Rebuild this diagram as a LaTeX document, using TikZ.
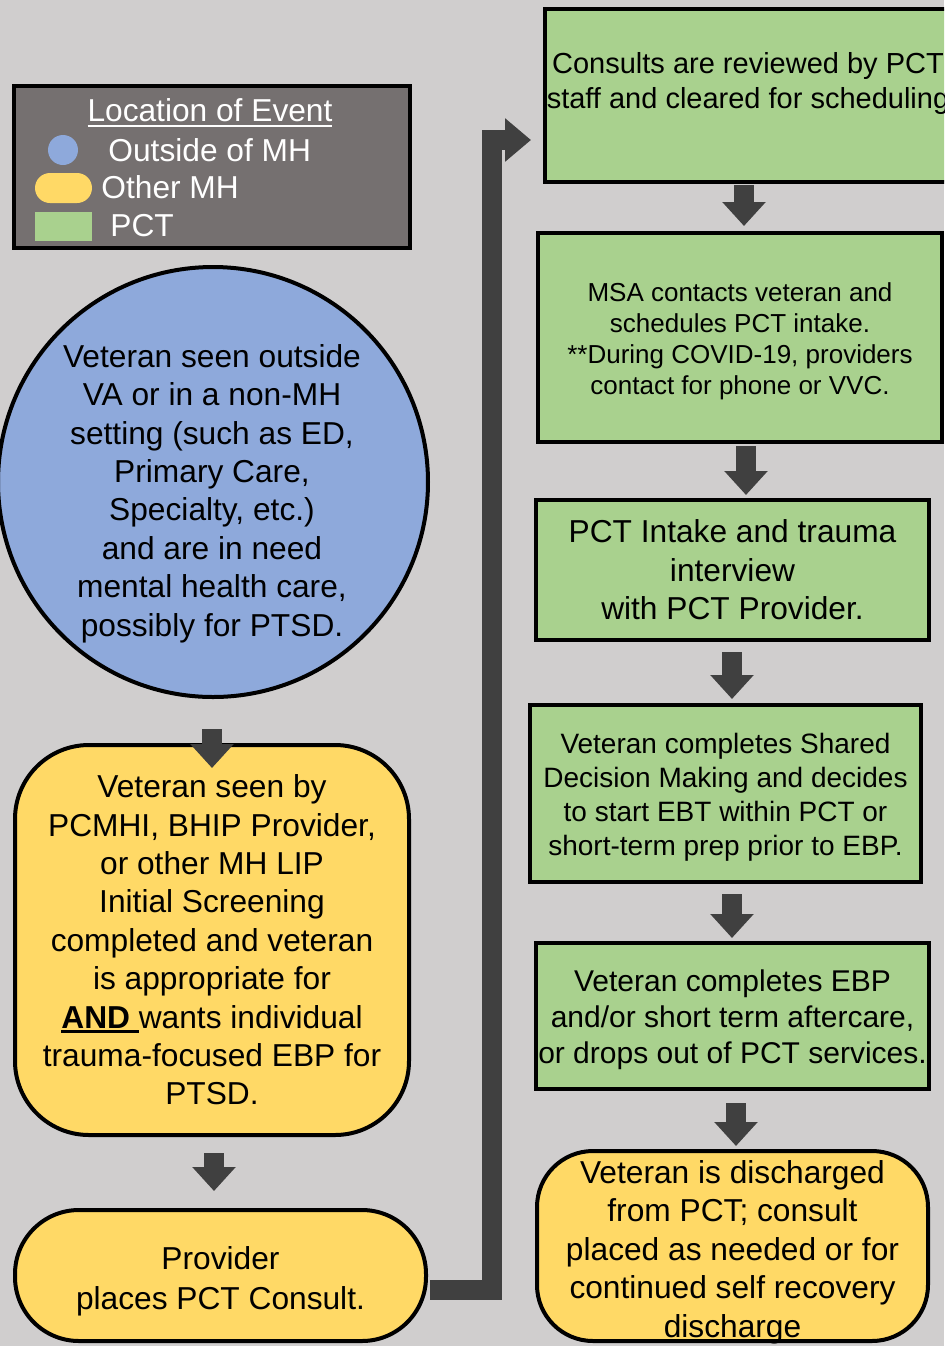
\documentclass[tikz,border=0pt]{standalone}
\usepackage{fontspec}
\setmainfont{Liberation Sans}
\usetikzlibrary{arrows.meta, positioning}

\definecolor{bggray}{HTML}{D0CECE}
\definecolor{leggray}{HTML}{757070}
\definecolor{outblue}{HTML}{8EA9DB}
\definecolor{mhyellow}{HTML}{FFD966}
\definecolor{pctgreen}{HTML}{A9D18E}
\definecolor{arrowgray}{HTML}{404040}

\newcommand{\pix}{0.5pt}
\newcommand{\barunder}[2]{\setbox0\hbox{#2}\rlap{\rule[-2.6pt]{\wd0}{#1}}\box0}

\begin{document}
\begin{tikzpicture}[x=\pix, y=-\pix,
    every node/.style={inner sep=0pt, align=center},
    txt/.style={font=\fontsize{15.85}{19.2}\selectfont},
    legtxt/.style={txt, text=white},
    legend/.style={rectangle, draw=black, line width=2pt, fill=leggray},
    outside/.style={circle, draw=black, line width=2pt, fill=outblue},
    othermh/.style={rectangle, draw=black, line width=2pt, fill=mhyellow, txt},
    pct/.style={rectangle, draw=black, line width=2pt, fill=pctgreen},
    fat/.style={draw=arrowgray, line width=10pt, line join=miter,
        -{Triangle[length=12pt, width=21pt]}}
]

\useasboundingbox (0,0) rectangle (944,1346);
\clip (0,0) rectangle (944,1346);
\fill[bggray] (0,0) rectangle (944,1346);

% Legend
\node[legend, minimum width=396*\pix, minimum height=162*\pix] (legend) at (212,167) {};
\node[legtxt, anchor=base] (legtitle) at (210,121.5) {\barunder{1pt}{Location of Event}};
\node[circle, fill=outblue, minimum size=30*\pix] (keyblue) at (63,150) {};
\node[rectangle, rounded corners=7.5pt, fill=mhyellow, minimum width=57*\pix, minimum height=30*\pix] (keyyellow) at (63.5,188) {};
\node[rectangle, fill=pctgreen, minimum width=57*\pix, minimum height=29*\pix] (keygreen) at (63.5,226.5) {};
\node[legtxt, anchor=base west] (keyout) at (108,161.5) {Outside of MH};
\node[legtxt, anchor=base west] (keymh) at (101,198.5) {Other MH};
\node[legtxt, anchor=base west] (keypct) at (110,236.5) {PCT};

% Left column
\node[outside, minimum size=430*\pix] (seen) at (213,482) {};
\node[txt] (seentxt) at (212,493.5)
    {Veteran seen outside\\VA or in a non-MH\\setting (such as ED,\\Primary Care,\\Specialty, etc.)\\and are in need\\mental health care,\\possibly for PTSD.};
\node[othermh, rounded corners=37pt, minimum width=394*\pix, minimum height=390*\pix] (screen) at (212,940)
    {Veteran seen by\\PCMHI, BHIP Provider,\\or other MH LIP\\Initial Screening\\completed and veteran\\is appropriate for\\\barunder{1.5pt}{\textbf{AND} }wants individual\\trauma-focused EBP for\\PTSD.};
\node[othermh, rounded corners=32pt, minimum width=411*\pix, minimum height=131*\pix] (prov) at (220.5,1275.5) {};
\node[font=\fontsize{15.85}{20}\selectfont] (provtxt) at (220.5,1281.5)
    {Provider\\places PCT Consult.};

% Right column
\node[pct, minimum width=415*\pix, minimum height=173*\pix] (cons) at (752.5,95.5) {};
\node[font=\fontsize{14.5}{17.5}\selectfont] (constxt) at (748,83.5)
    {Consults are reviewed by PCT\\staff and cleared for scheduling};
\node[pct, minimum width=404*\pix, minimum height=209*\pix] (msa) at (740,337.5) {};
\node[font=\fontsize{13}{15.5}\selectfont] (msatxt) at (740,341)
    {MSA contacts veteran and\\schedules PCT intake.\\**During COVID-19, providers\\contact for phone or VVC.};
\node[pct, txt, minimum width=393*\pix, minimum height=140*\pix] (pctin) at (732.5,570)
    {PCT Intake and trauma\\interview\\with PCT Provider.};
\node[pct, minimum width=391*\pix, minimum height=177*\pix] (sdm) at (725.5,793.5) {};
\node[font=\fontsize{14}{17}\selectfont] (sdmtxt) at (725.5,797.5)
    {Veteran completes Shared\\Decision Making and decides\\to start EBT within PCT or\\short-term prep prior to EBP.};
\node[pct, minimum width=393*\pix, minimum height=146*\pix] (ebp) at (732.5,1016) {};
\node[font=\fontsize{15}{18}\selectfont] (ebptxt) at (732.5,1019.5)
    {Veteran completes EBP\\and/or short term aftercare,\\or drops out of PCT services.};
\node[othermh, rounded corners=28pt, minimum width=391*\pix, minimum height=190*\pix] (disc) at (732.5,1246) {};
\node[font=\fontsize{15.85}{19.25}\selectfont] (disctxt) at (732.5,1252)
    {Veteran is discharged\\from PCT; consult\\placed as needed or for\\continued self recovery\\discharge};

% Arrows, left column
\draw[fat] ([xshift=-1*\pix, yshift=-30*\pix]seen.south) -- ([yshift=-25*\pix]screen.north);
\draw[fat] ([xshift=2*\pix, yshift=-16*\pix]screen.south) -- ([xshift=-6.5*\pix, yshift=17*\pix]prov.north);

% Referral line up to the PCT column
\draw[fat, -{Triangle[length=13pt, width=21pt]}] ([xshift=2*\pix, yshift=-14.5*\pix]prov.east) -- ++(62,0)
    |- ([xshift=-12*\pix, yshift=-44.5*\pix]cons.west);

% Arrows, right column
\draw[fat] ([xshift=-8.5*\pix, yshift=-1*\pix]cons.south) -- ([xshift=4*\pix, yshift=5*\pix]msa.north);
\draw[fat] ([xshift=6*\pix, yshift=-2*\pix]msa.south) -- ([xshift=13.5*\pix, yshift=3*\pix]pctin.north);
\draw[fat] ([xshift=-0.5*\pix, yshift=-10*\pix]pctin.south) -- ([xshift=6.5*\pix, yshift=4*\pix]sdm.north);
\draw[fat] ([xshift=6.5*\pix, yshift=-10*\pix]sdm.south) -- ([xshift=-0.5*\pix, yshift=3*\pix]ebp.north);
\draw[fat] ([xshift=3.5*\pix, yshift=-12*\pix]ebp.south) -- ([xshift=3.5*\pix, yshift=3*\pix]disc.north);

\end{tikzpicture}
\end{document}
